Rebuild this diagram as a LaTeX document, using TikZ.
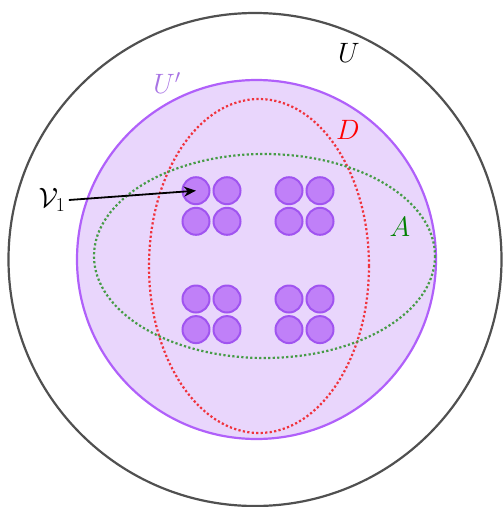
\RequirePackage{fix-cm}
\documentclass[tikz,border=0pt]{standalone}
\usepackage{amsmath}
\usetikzlibrary{arrows.meta,positioning}

\definecolor{ringgrey}{RGB}{80,80,80}
\definecolor{upline}{RGB}{176,96,250}
\definecolor{upfill}{RGB}{233,214,252}
\definecolor{uplabel}{RGB}{168,116,228}
\definecolor{vfill}{RGB}{192,128,248}
\definecolor{vline}{RGB}{160,84,240}
\definecolor{dred}{RGB}{240,50,60}
\definecolor{agreen}{RGB}{70,155,70}
\definecolor{alabel}{RGB}{0,128,0}

\begin{document}
\begin{tikzpicture}[
  x=1pt, y=-1pt,
  font=\fontsize{28}{32}\selectfont,
  region/.style={line width=2.2pt},
  setline/.style={line width=2.2pt, dash pattern=on 2.2pt off 2.3pt},
  vert/.style={circle, draw=vline, fill=vfill, line width=2pt, minimum size=27pt, inner sep=0pt},
  arrow/.style={-{Stealth[length=12pt,width=10pt]}, line width=1.8pt}
]
  \useasboundingbox (0,0) rectangle (503,507);

  % the sets
  \draw[region, draw=ringgrey] (255,259.5) circle (246.5);
  \draw[region, draw=upline, fill=upfill] (256.5,259.5) circle (179.5);
  \draw[setline, draw=dred] (259,266) ellipse (110 and 167);
  \draw[setline, draw=agreen] (264.5,256) ellipse (170.5 and 102);

  % the small blobs
  \foreach \gx/\gy [count=\g] in {196/190.7, 289/190.7, 196/299, 289/299} {
    \foreach \dx/\dy [count=\k] in {0/0, 31/0, 0/30.6, 31/30.6}
      \node[vert] (v\g\k) at (\gx+\dx,\gy+\dy) {};
  }

  % labels
  \node[text=black] (lU) at (349,53) {$U$};
  \node[text=uplabel] (lUp) at (167,83) {$U'$};
  \node[text=red] (lD) at (348,130) {$D$};
  \node[text=alabel] (lA) at (400,227) {$A$};
  \node (lV) at (52,200) {$\mathcal{V}_1$};

  \draw[arrow] (lV.east) -- (v11.center);
\end{tikzpicture}
\end{document}
